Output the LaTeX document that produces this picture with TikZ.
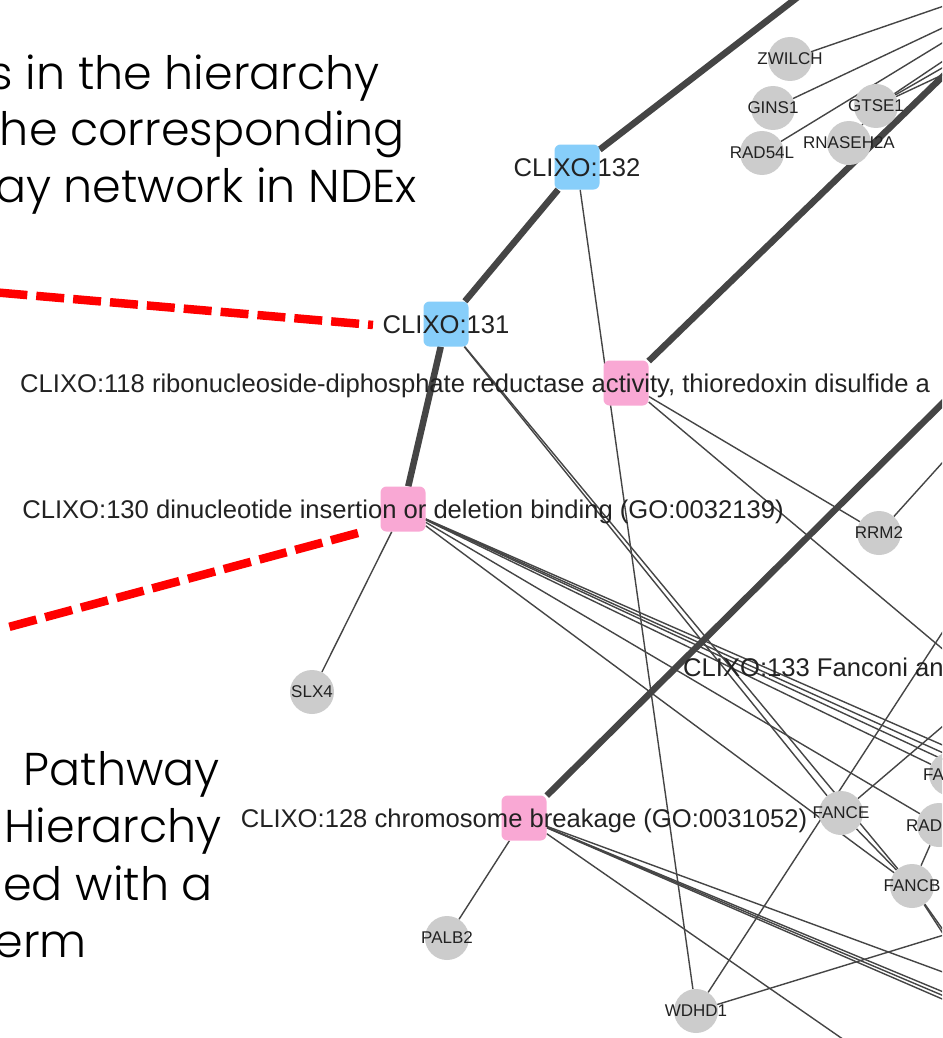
\documentclass[tikz,border=0pt]{standalone}
\usepackage{fontspec}
\setmainfont{Liberation Sans}
\newfontfamily\gothic{Poppins}[UprightFont={* Light}]
\usetikzlibrary{calc}
\pgfdeclarelayer{edges}
\pgfsetlayers{edges,main}

\definecolor{edgegray}{HTML}{454545}
\definecolor{termblue}{HTML}{87CEFA}
\definecolor{termpink}{HTML}{F9A8D4}
\definecolor{genegray}{HTML}{CCCCCC}
\definecolor{labelink}{HTML}{222222}
\definecolor{callout}{HTML}{FF0000}

\begin{document}
\begin{tikzpicture}[x=1pt,y=-1pt,
  term/.style={rectangle, rounded corners=6pt, minimum size=45pt, inner sep=0pt},
  parentterm/.style={term, fill=termblue},
  childterm/.style={term, fill=termpink},
  gene/.style={circle, fill=genegray, minimum size=44pt, inner sep=0pt,
    font=\fontsize{17}{20}\selectfont, text=labelink},
  termtext/.style={font=\fontsize{25.6}{30}\selectfont, text=labelink, inner sep=0pt, anchor=base},
  genetext/.style={font=\fontsize{17}{20}\selectfont, text=labelink, inner sep=0pt, anchor=base west},
  thinedge/.style={draw=edgegray, line width=1.4pt},
  thickedge/.style={draw=edgegray, line width=6.5pt},
  pointer/.style={draw=callout, line width=8.5pt, dash pattern=on 28pt off 9pt},
  note/.style={font=\gothic\fontsize{46}{56}\selectfont, inner sep=0pt, anchor=base east},
]
\useasboundingbox (0,0) rectangle (942,1038);
\clip (0,0) rectangle (942,1038);

% ---------- hierarchy terms ----------
\node[parentterm] (n132) at (577,167) {};
\node[parentterm] (n131) at (446,324) {};
\node[childterm]  (n118) at (626,383) {};
\node[childterm]  (n130) at (403,509) {};
\node[childterm]  (n128) at (524,818) {};

% ---------- genes ----------
\node[gene] (zwilch)   at (790,59)   {\makebox[0pt]{ZWILCH}};
\node[gene] (gins1)    at (773,108)  {\makebox[0pt]{GINS1}};
\node[gene] (gtse1)    at (876,106)  {\makebox[0pt]{GTSE1}};
\node[gene] (rad54l)   at (762,153)  {\makebox[0pt]{RAD54L}};
\node[gene] (rnaseh2a) at (849,143)  {\makebox[0pt]{RNASEH2A}};
\node[gene] (rrm2)     at (879,533)  {\makebox[0pt]{RRM2}};
\node[gene] (slx4)     at (312,692)  {\makebox[0pt]{SLX4}};
\node[gene] (palb2)    at (447,938)  {\makebox[0pt]{PALB2}};
\node[gene] (wdhd1)    at (696,1011) {\makebox[0pt]{WDHD1}};
\node[gene] (fance)    at (841,813)  {\makebox[0pt]{FANCE}};
\node[gene] (fancb)    at (912,886)  {\makebox[0pt]{FANCB}};
\node[gene] (rad)      at (939,825)  {};
\node[gene] (fa)       at (951,774)  {};
\node[genetext] (radtext) at (906,831) {RAD};
\node[genetext] (fatext)  at (923,780) {FA};

% ---------- term labels ----------
\node[termtext] (n132text) at (577,176) {CLIXO:132};
\node[termtext] (n131text) at (446,333) {CLIXO:131};
\node[termtext, anchor=base west] (n118text) at (20,392)
  {CLIXO:118 ribonucleoside-diphosphate reductase activity, thioredoxin disulfide a};
\node[termtext] (n130text) at (403,518)
  {CLIXO:130 dinucleotide insertion or deletion binding (GO:0032139)};
\node[termtext, anchor=base west] (n133text) at (683,676) {CLIXO:133 Fanconi ana};
\node[termtext] (n128text) at (524,827) {CLIXO:128 chromosome breakage (GO:0031052)};

% ---------- ends of edges leaving the view ----------
\coordinate (up132)   at (820,-20);
\coordinate (up118)   at (970,50);
\coordinate (up128)   at (970,376);
\coordinate (zwout)   at (970,-3);
\coordinate (ginsout) at (970,15);
\coordinate (radout)  at (970,26);
\coordinate (gtA)     at (970,43);
\coordinate (gtB)     at (970,52);
\coordinate (gtC)     at (970,62);
\coordinate (out118)  at (970,672);
\coordinate (rrmout)  at (970,432);
\coordinate (wdA)     at (970,590);
\coordinate (wdB)     at (970,927);
\coordinate (fceout)  at (970,703);
\coordinate (fcbA)    at (970,968);
\coordinate (fcbB)    at (970,975);
\coordinate (b130A)   at (970,757);
\coordinate (b130B)   at (970,765);
\coordinate (b130C)   at (970,772);
\coordinate (b128A)   at (970,982);
\coordinate (b128B)   at (970,1003);
\coordinate (b128C)   at (970,1007);
\coordinate (b128D)   at (970,1011);
\coordinate (b128E)   at (873,1060);

% ---------- edges, kept beneath the nodes ----------
\begin{pgfonlayer}{edges}
\clip (0,0) rectangle (942,1038);
\fill[white] (0,0) rectangle (942,1038);
% parent-child links of the hierarchy
\draw[thickedge] (n132) -- (up132);
\draw[thickedge] (n132) -- (n131);
\draw[thickedge] (n131) -- (n130);
\draw[thickedge] (n118) -- (up118);
\draw[thickedge] (n128) -- (up128);
% gene links, upper right
\draw[thinedge] (zwilch) -- (zwout);
\draw[thinedge] (gins1) -- (ginsout);
\draw[thinedge] (rad54l) -- (radout);
\draw[thinedge] (gtse1) -- (gtA);
\draw[thinedge] (gtse1) -- (gtB);
\draw[thinedge] (gtse1) -- (gtC);
\draw[thinedge] (rnaseh2a) -- (gtse1);
% term to gene links
\draw[thinedge] (n132) -- (wdhd1);
\draw[thinedge] (n131) -- (fance);
\draw[thinedge] (n131) -- (fancb);
\draw[thinedge] (n118) -- (rrm2);
\draw[thinedge] (n118) -- (out118);
\draw[thinedge] (rrm2) -- (rrmout);
\draw[thinedge] (n130) -- (slx4);
\draw[thinedge] (n130) -- (fa);
\draw[thinedge] (n130) -- (b130A);
\draw[thinedge] (n130) -- (b130B);
\draw[thinedge] (n130) -- (b130C);
\draw[thinedge] (n130) -- (rad);
\draw[thinedge] (n130) -- (fancb);
\draw[thinedge] (n128) -- (palb2);
\draw[thinedge] (n128) -- (b128A);
\draw[thinedge] (n128) -- (b128B);
\draw[thinedge] (n128) -- (b128C);
\draw[thinedge] (n128) -- (b128D);
\draw[thinedge] (n128) -- (b128E);
% gene to gene links
\draw[thinedge] (wdhd1) -- (wdA);
\draw[thinedge] (wdhd1) -- (wdB);
\draw[thinedge] (fance) -- (fceout);
\draw[thinedge] (fance) -- (fancb);
\draw[thinedge] (rad) -- (fancb);
\draw[thinedge] (fancb) -- (fcbA);
\draw[thinedge] (fancb) -- (fcbB);
\end{pgfonlayer}

% ---------- call-outs ----------
\coordinate (calloutA)    at (373,325);
\coordinate (calloutAend) at (-20,291);
\coordinate (calloutB)    at (358,533);
\coordinate (calloutBend) at (5,628);
\draw[pointer, dash phase=23pt] (calloutA) -- (calloutAend);
\draw[pointer] (calloutB) -- (calloutBend);

\node[note] (noteA) at (380,90)  {s in the hierarchy};
\node[note] (noteB) at (405,146) {he corresponding};
\node[note] (noteC) at (417,202) {ay network in NDEx};
\node[note] (noteD) at (220,785) {Pathway};
\node[note] (noteE) at (222,842) {Hierarchy};
\node[note] (noteF) at (213,900) {ed with a};
\node[note] (noteG) at (87,957)  {erm};
\end{tikzpicture}
\end{document}
